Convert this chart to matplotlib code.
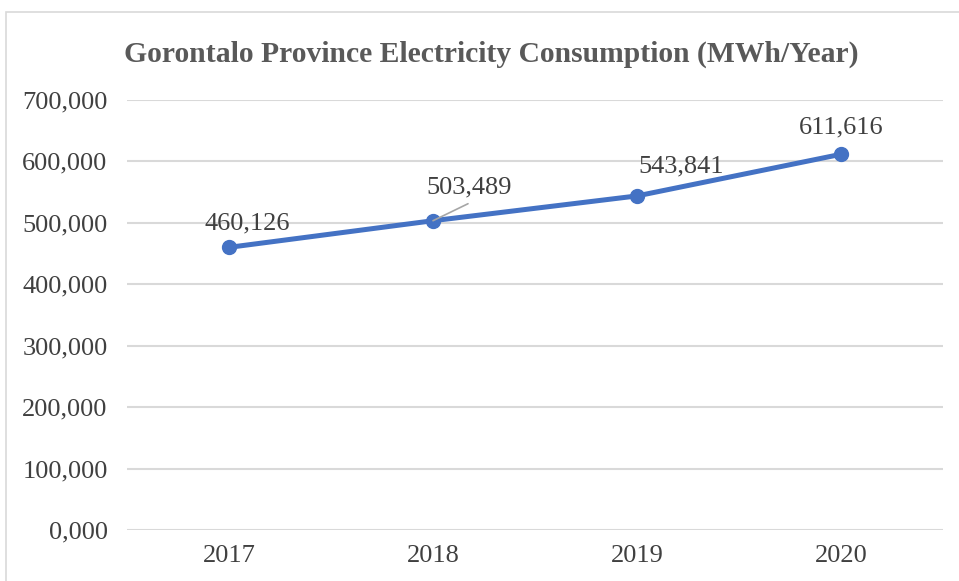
import matplotlib
matplotlib.use("Agg")
import matplotlib.pyplot as plt
from matplotlib.patches import Rectangle
from matplotlib.ticker import FuncFormatter

years = ["2017", "2018", "2019", "2020"]
consumption = [460126, 503489, 543841, 611616]
label_offsets_px = [(18, 13), (36, 22), (44, 18), (0, 16)]
y_ticks = [0, 100000, 200000, 300000, 400000, 500000, 600000, 700000]

plt.rcParams['font.family'] = ['Liberation Serif', 'DejaVu Serif']

fig = plt.figure(figsize=(9.59, 5.81), dpi=100)
fig.patch.set_facecolor('white')
# outer chart border
fig.patches.append(Rectangle((6/959, -0.1), 1.1, 1 - 12/581 + 0.1, transform=fig.transFigure,
                             fill=False, edgecolor='#D9D9D9', linewidth=1.2))

ax = fig.add_axes([127/959, 1 - 530/581, (943 - 127)/959, (530 - 100)/581])
x = list(range(len(years)))
ax.plot(x, consumption, color='#4472C4', linewidth=3.6, marker='o', markersize=10,
        solid_capstyle='round', zorder=3)

ax.set_xlim(-0.5, len(years) - 0.5)
ax.set_ylim(0, 700000)
ax.set_yticks(y_ticks)
ax.yaxis.set_major_formatter(FuncFormatter(lambda v, p: "0,000" if v == 0 else f"{int(v):,}"))
ax.set_xticks(x)
ax.set_xticklabels(years)
ax.grid(axis='y', color='#D9D9D9', linewidth=1.5)
ax.set_axisbelow(True)
for s in ax.spines.values():
    s.set_visible(False)
ax.tick_params(axis='both', length=0, labelsize=19, colors='#404040', labelcolor='#404040')
ax.tick_params(axis='y', pad=14)
ax.tick_params(axis='x', pad=11)

for i, (v, off) in enumerate(zip(consumption, label_offsets_px)):
    ax.annotate(f"{v:,}", xy=(i, v), xytext=off, textcoords='offset pixels',
                ha='center', va='bottom', fontsize=19, color='#404040')
    if i == 1:
        ax.annotate("", xy=(i, v), xytext=(35, 17), textcoords='offset pixels',
                    arrowprops=dict(arrowstyle='-', color='#A6A6A6', lw=1.2, shrinkA=0, shrinkB=0))

fig.text(491/959, 1 - 54/581, "Gorontalo Province Electricity Consumption (MWh/Year)",
         ha='center', va='center', fontsize=21.3, fontweight='bold', color='#595959')

fig.savefig("out.png", dpi=100)
